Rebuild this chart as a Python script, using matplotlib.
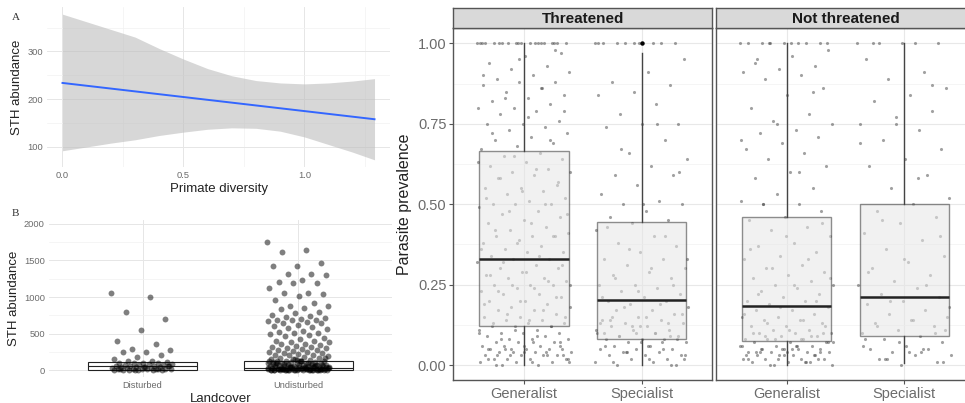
import matplotlib.pyplot as plt
import numpy as np

plt.rcParams['font.family'] = ['Liberation Sans', 'DejaVu Sans']

# ---- panel A: linear fit of STH abundance on primate diversity
fit_x = [0.0, 1.29]
fit_y = [234, 158]
rib_x = [0.0, 0.1, 0.2, 0.3, 0.4, 0.5, 0.6, 0.7, 0.8, 0.9, 1.0, 1.1, 1.2, 1.29]
rib_hi = [378, 362, 346, 330, 306, 284, 264, 249, 239, 234, 232, 234, 238, 243]
rib_lo = [92, 100, 108, 115, 124, 131, 137, 140, 139, 133, 121, 105, 89, 73]

# ---- panel B: STH abundance by landcover
land_cats = ['Disturbed', 'Undisturbed']
land_box = [  # q1, median, q3
    (5, 55, 105),
    (0, 25, 125),
]
disturbed = [1060, 1000, 800, 700, 550, 400, 360, 290, 270, 250, 250, 200, 180, 150,
             130, 120, 110, 100, 100, 95, 90, 85, 80, 75, 70, 65, 60, 55, 50, 50, 45,
             40, 40, 35, 30, 30, 25, 20, 20, 15, 15, 10, 10, 8, 5, 5, 3, 2, 0, 0,
             60, 35, 20, 10, 5]
undisturbed = [1750, 1650, 1610, 1460, 1430, 1420, 1310, 1310, 1300, 1230, 1200, 1190,
               1190, 1120, 1060, 1050, 1040, 1020, 960, 920, 880, 870, 850, 830, 800,
               780, 750, 740, 720, 710, 700, 690, 690, 680, 670, 660, 650, 640, 620, 600,
               590, 570, 560, 530, 520, 510, 510, 500, 480, 460, 440, 420, 400, 400, 390,
               380, 360, 350, 340, 330, 320, 310, 300, 300, 290, 280, 270, 260, 250, 250,
               240, 230, 220, 210, 200, 200, 190, 180, 170, 160, 150, 150, 140, 130, 130,
               120, 120, 110, 110, 100, 100, 95, 90, 90, 85, 80, 80, 75, 70, 70, 65, 60,
               60, 55, 50, 50, 45, 45, 40, 40, 35, 35, 30, 30, 25, 25, 20, 20, 20, 15, 15,
               15, 10, 10, 10, 10, 8, 8, 5, 5, 5, 5, 3, 3, 2, 2, 0, 0, 0, 0, 120, 90, 60,
               40, 30, 20, 10, 5, 140, 110, 70, 50, 35, 25, 15, 0, 150, 130, 100, 85, 75,
               65, 55, 45, 38, 28, 22, 18, 12, 6, 4, 1, 0, 160, 125, 95, 68, 48, 33, 27,
               17, 9, 7, 2, 0, 0]

# ---- right panel: parasite prevalence by host type and threat status
facets = ['Threatened', 'Not threatened']
hosts = ['Generalist', 'Specialist']
prev_box = {  # whislo, q1, median, q3, whishi
    ('Threatened', 'Generalist'): (0.0, 0.121, 0.331, 0.665, 1.0),
    ('Threatened', 'Specialist'): (0.0, 0.081, 0.202, 0.445, 0.971),
    ('Not threatened', 'Generalist'): (0.0, 0.075, 0.183, 0.460, 1.0),
    ('Not threatened', 'Specialist'): (0.005, 0.090, 0.211, 0.500, 1.0),
}
prev_outliers = {('Threatened', 'Specialist'): [1.0]}

thr_gen = [1.00, 1.00, 1.00, 1.00, 1.00, 1.00, 1.00, 1.00, 1.00, 1.00, 1.00, 1.00, 1.00,
           1.00, 1.00, 1.00, 0.97, 0.96, 0.94, 0.93, 0.92, 0.91, 0.90, 0.89, 0.88, 0.88,
           0.87, 0.86, 0.85, 0.84, 0.83, 0.82, 0.81, 0.80, 0.80, 0.79, 0.78, 0.76, 0.75,
           0.75, 0.74, 0.73, 0.72, 0.71, 0.70, 0.69, 0.68, 0.67, 0.66, 0.65, 0.64, 0.63,
           0.62, 0.61, 0.60, 0.60, 0.59, 0.58, 0.56, 0.55, 0.55, 0.54, 0.53, 0.52, 0.51,
           0.50, 0.50, 0.50, 0.49, 0.48, 0.47, 0.46, 0.45, 0.44, 0.43, 0.42, 0.41, 0.40,
           0.40, 0.40, 0.39, 0.38, 0.37, 0.36, 0.35, 0.35, 0.34, 0.33, 0.33, 0.32, 0.31,
           0.30, 0.30, 0.29, 0.28, 0.27, 0.27, 0.26, 0.25, 0.25, 0.25, 0.24, 0.23, 0.22,
           0.22, 0.21, 0.20, 0.20, 0.19, 0.18, 0.18, 0.17, 0.17, 0.16, 0.15, 0.15, 0.14,
           0.14, 0.13, 0.13, 0.12, 0.12, 0.12, 0.11, 0.11, 0.10, 0.10, 0.10, 0.09, 0.09,
           0.08, 0.08, 0.08, 0.07, 0.07, 0.07, 0.06, 0.06, 0.06, 0.05, 0.05, 0.05, 0.05,
           0.04, 0.04, 0.04, 0.04, 0.03, 0.03, 0.03, 0.03, 0.02, 0.02, 0.02, 0.02, 0.01,
           0.01, 0.01, 0.00, 0.00, 0.06, 0.04, 0.02, 0.03, 0.05, 0.01, 0.07, 0.03,
           0.98, 0.95, 0.90, 0.86, 0.83, 0.79, 0.77, 0.72, 0.70, 0.65, 0.63, 0.61, 0.58,
           0.57, 0.54, 0.52, 0.50, 0.48, 0.47, 0.44, 0.42, 0.40, 0.38, 0.36, 0.34, 0.32,
           0.31, 0.29, 0.28, 0.26, 0.25, 0.25, 0.24, 0.23, 0.21, 0.20, 0.19, 0.17, 0.16,
           0.15, 0.14, 0.13, 0.12, 0.11, 0.10, 0.09, 0.08, 0.07, 0.06, 0.05, 0.04, 0.03,
           0.02, 0.01, 0.00, 1.00, 1.00, 1.00, 1.00, 0.05, 0.03]
thr_spec = [1.00, 1.00, 1.00, 1.00, 1.00, 1.00, 1.00, 1.00, 0.95, 0.91, 0.88, 0.87, 0.85,
            0.84, 0.81, 0.78, 0.75, 0.75, 0.74, 0.70, 0.66, 0.64, 0.62, 0.59, 0.59, 0.56,
            0.53, 0.51, 0.50, 0.50, 0.48, 0.46, 0.45, 0.44, 0.42, 0.40, 0.38, 0.37, 0.35,
            0.33, 0.33, 0.31, 0.30, 0.29, 0.28, 0.27, 0.25, 0.25, 0.24, 0.23, 0.22, 0.21,
            0.20, 0.20, 0.19, 0.18, 0.17, 0.17, 0.16, 0.15, 0.14, 0.14, 0.13, 0.13, 0.12,
            0.12, 0.11, 0.11, 0.10, 0.10, 0.09, 0.09, 0.08, 0.08, 0.08, 0.07, 0.07, 0.06,
            0.06, 0.05, 0.05, 0.05, 0.04, 0.04, 0.03, 0.03, 0.03, 0.02, 0.02, 0.01, 0.01,
            0.00, 0.00, 0.12, 0.10, 0.07, 0.04, 0.02, 0.06, 0.15, 0.09, 1.00, 1.00, 0.75,
            0.67, 0.60, 0.50, 0.43, 0.40, 0.36, 0.33, 0.30, 0.27, 0.25, 0.23, 0.21, 0.19,
            0.18, 0.16, 0.15, 0.14, 0.13, 0.12, 0.11, 0.10, 0.09, 0.08, 0.07, 0.06, 0.05,
            0.04, 0.03, 0.02, 0.01, 0.00, 0.10, 0.13]
not_gen = [1.00, 1.00, 1.00, 1.00, 1.00, 1.00, 1.00, 1.00, 0.98, 0.96, 0.95, 0.93, 0.92,
           0.91, 0.90, 0.89, 0.86, 0.84, 0.80, 0.78, 0.76, 0.75, 0.73, 0.72, 0.71, 0.69,
           0.67, 0.66, 0.64, 0.62, 0.60, 0.58, 0.55, 0.53, 0.51, 0.50, 0.50, 0.48, 0.46,
           0.45, 0.43, 0.42, 0.40, 0.38, 0.37, 0.35, 0.34, 0.33, 0.31, 0.30, 0.29, 0.28,
           0.27, 0.26, 0.25, 0.25, 0.24, 0.23, 0.22, 0.21, 0.20, 0.20, 0.19, 0.18, 0.17,
           0.17, 0.16, 0.15, 0.15, 0.14, 0.14, 0.13, 0.12, 0.12, 0.11, 0.11, 0.10, 0.10,
           0.10, 0.09, 0.09, 0.08, 0.08, 0.08, 0.07, 0.07, 0.07, 0.06, 0.06, 0.06, 0.05,
           0.05, 0.05, 0.05, 0.04, 0.04, 0.04, 0.04, 0.03, 0.03, 0.03, 0.03, 0.02, 0.02,
           0.02, 0.02, 0.01, 0.01, 0.01, 0.00, 0.00, 0.06, 0.04, 0.02, 0.05, 0.03, 0.01,
           1.00, 1.00, 1.00, 0.94, 0.85, 0.75, 0.70, 0.60, 0.50, 0.44, 0.40, 0.36, 0.33,
           0.30, 0.27, 0.25, 0.22, 0.20, 0.18, 0.16, 0.14, 0.13, 0.12, 0.11, 0.10, 0.09,
           0.08, 0.07, 0.06, 0.05, 0.04, 0.03, 0.02, 0.01, 0.00, 0.07, 0.05, 0.04, 0.03,
           0.02, 0.06, 0.08, 0.09, 0.10, 0.04]
not_spec = [1.00, 1.00, 1.00, 1.00, 1.00, 0.95, 0.91, 0.89, 0.86, 0.84, 0.82, 0.79, 0.77,
            0.75, 0.73, 0.70, 0.67, 0.64, 0.62, 0.59, 0.55, 0.52, 0.50, 0.48, 0.46, 0.44,
            0.41, 0.39, 0.36, 0.34, 0.32, 0.30, 0.28, 0.26, 0.25, 0.24, 0.22, 0.21, 0.20,
            0.19, 0.17, 0.16, 0.15, 0.14, 0.13, 0.12, 0.11, 0.10, 0.09, 0.08, 0.07, 0.06,
            0.05, 0.05, 0.04, 0.03, 0.03, 0.02, 0.01, 0.00, 0.08, 0.05, 0.02, 0.11, 0.04,
            1.00, 0.87, 0.75, 0.69, 0.58, 0.45, 0.40, 0.33, 0.29, 0.25, 0.20, 0.18, 0.14,
            0.12, 0.10, 0.07, 0.06, 0.04, 0.02, 0.01]
prev_points = {
    ('Threatened', 'Generalist'): thr_gen,
    ('Threatened', 'Specialist'): thr_spec,
    ('Not threatened', 'Generalist'): not_gen,
    ('Not threatened', 'Specialist'): not_spec,
}


def spread(n, w):
    # evenly scattered horizontal offsets (deterministic jitter)
    return ((np.arange(n) * 0.6180339887) % 1.0 - 0.5) * 2 * w


W, H = 965, 403


def px_axes(left, top, right, bottom):
    return fig.add_axes([left / W, (H - bottom) / H, (right - left) / W, (bottom - top) / H])


fig = plt.figure(figsize=(W / 100, H / 100), dpi=100)

tick_col = '#6b6b6b'
title_col = '#222222'

# ---------------- panel A
axA = px_axes(47, 7, 390, 167)
axA.fill_between(rib_x, rib_lo, rib_hi, color='#bdbdbd', alpha=0.6, lw=0)
axA.plot(fit_x, fit_y, color='#3366ff', lw=1.4)
axA.set_xlim(-0.064, 1.354)
axA.set_ylim(58, 393)
axA.set_xticks([0.0, 0.5, 1.0])
axA.set_xticklabels(['0.0', '0.5', '1.0'])
axA.set_yticks([100, 200, 300])
axA.set_xticks([0.25, 0.75, 1.25], minor=True)
axA.set_yticks([150, 250, 350], minor=True)
axA.set_xlabel('Primate diversity', fontsize=9.5, color=title_col, labelpad=2)
axA.set_ylabel('STH abundance', fontsize=9.5, color=title_col, labelpad=3)

# ---------------- panel B
axB = px_axes(49, 219.6, 392, 376.6)
for i, (cat, vals) in enumerate(zip(land_cats, [disturbed, undisturbed])):
    q1, med, q3 = land_box[i]
    axB.bxp([{'q1': q1, 'med': med, 'q3': q3, 'whislo': q1, 'whishi': q3, 'fliers': []}],
            positions=[i + 1], widths=0.7, patch_artist=True, showcaps=False,
            boxprops=dict(facecolor='white', edgecolor='#222222', lw=0.8),
            medianprops=dict(color='#222222', lw=0.8),
            whiskerprops=dict(color='#222222', lw=0.8), manage_ticks=False)
    axB.scatter(i + 1 + spread(len(vals), 0.2), vals, s=18, color='black',
                alpha=0.5, lw=0, zorder=3)
axB.set_xlim(0.4, 2.6)
axB.set_ylim(-90, 2060)
axB.set_xticks([1, 2])
axB.set_xticklabels(land_cats)
axB.set_yticks([0, 500, 1000, 1500, 2000])
axB.set_yticks([250, 750, 1250, 1750], minor=True)
axB.set_xlabel('Landcover', fontsize=9.5, color=title_col, labelpad=2)
axB.set_ylabel('STH abundance', fontsize=9.5, color=title_col, labelpad=3)

for ax in (axA, axB):
    for s in ax.spines.values():
        s.set_visible(False)
    ax.tick_params(which='both', length=0, labelsize=6.7, colors=tick_col, pad=3)
    ax.grid(which='major', color='#e6e6e6', lw=0.7)
    ax.grid(which='minor', color='#f2f2f2', lw=0.5)
    ax.set_axisbelow(True)

fig.text(12 / W, (H - 17) / H, 'A', family='Liberation Serif', fontsize=8,
         ha='left', va='center', color='#333333')
fig.text(12 / W, (H - 214) / H, 'B', family='Liberation Serif', fontsize=8,
         ha='left', va='center', color='#333333')

# ---------------- right panel (faceted)
facet_left = [453.4, 716.0]
for k, facet in enumerate(facets):
    ax = px_axes(facet_left[k], 28.3, facet_left[k] + 258.9, 380)
    for j, host in enumerate(hosts):
        key = (facet, host)
        pts = prev_points[key]
        ax.scatter(j + 1 + spread(len(pts), 0.4), pts, s=5, color='#444444',
                   alpha=0.5, lw=0, zorder=2)
        lo, q1, med, q3, hi = prev_box[key]
        ax.bxp([{'q1': q1, 'med': med, 'q3': q3, 'whislo': lo, 'whishi': hi,
                 'fliers': prev_outliers.get(key, [])}],
               positions=[j + 1], widths=0.76, patch_artist=True, showcaps=False,
               boxprops=dict(facecolor='#e6e6e6', alpha=0.55, edgecolor='#333333', lw=1.0),
               medianprops=dict(color='#222222', lw=1.8),
               whiskerprops=dict(color='#444444', lw=1.0),
               flierprops=dict(marker='o', markersize=2.2, markerfacecolor='black',
                               markeredgecolor='black'),
               manage_ticks=False, zorder=3)
    ax.set_xlim(0.4, 2.6)
    ax.set_ylim(-0.0466, 1.0466)
    ax.set_xticks([1, 2])
    ax.set_xticklabels(hosts)
    ax.set_yticks([0, 0.25, 0.5, 0.75, 1.0])
    ax.set_yticks([0.125, 0.375, 0.625, 0.875], minor=True)
    ax.grid(which='major', color='#e8e8e8', lw=0.8)
    ax.grid(which='minor', color='#f2f2f2', lw=0.5)
    ax.set_axisbelow(True)
    ax.tick_params(which='major', length=3, color='#555555', labelsize=10.5,
                   labelcolor=tick_col, pad=2)
    ax.tick_params(which='minor', length=0)
    for s in ax.spines.values():
        s.set_color('#555555')
        s.set_linewidth(1.0)
    if k == 0:
        ax.set_yticklabels(['0.00', '0.25', '0.50', '0.75', '1.00'])
        ax.set_ylabel('Parasite prevalence', fontsize=11.5, color=title_col, labelpad=4)
    else:
        ax.set_yticklabels([])
        ax.tick_params(axis='y', length=0)

    strip = px_axes(facet_left[k], 8.3, facet_left[k] + 258.9, 28.3)
    strip.set_facecolor('#d9d9d9')
    strip.set_xticks([])
    strip.set_yticks([])
    for s in strip.spines.values():
        s.set_color('#555555')
        s.set_linewidth(1.0)
    strip.text(0.5, 0.47, facet, transform=strip.transAxes, ha='center', va='center',
               fontsize=11, fontweight='bold', color='#1a1a1a')

fig.savefig('out.png', dpi=100)
